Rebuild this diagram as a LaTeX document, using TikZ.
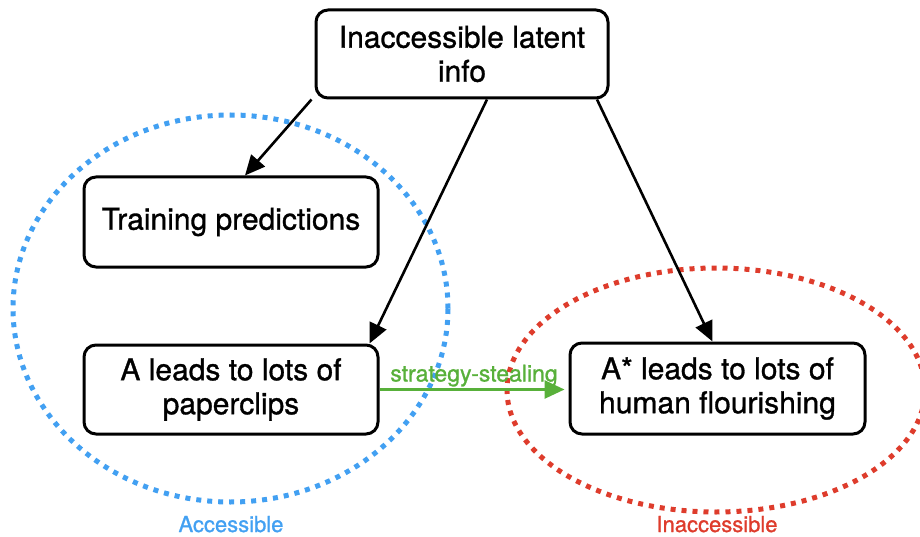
\documentclass[tikz,border=0pt]{standalone}
\usepackage{fontspec}
\setmainfont{TeX Gyre Heros}
\newfontfamily\medfont[FakeBold=1]{TeX Gyre Heros}
\usetikzlibrary{arrows.meta,calc}
\definecolor{accblue}{RGB}{66,160,242}
\definecolor{inred}{RGB}{222,60,44}
\definecolor{stgreen}{RGB}{88,176,58}
\begin{document}
\begin{tikzpicture}[x=1pt,y=-1pt,
  box/.style={draw=black, fill=white, line width=3pt, rounded corners=12pt, align=center,
    font=\medfont\fontsize{30}{34}\selectfont, minimum width=294pt, minimum height=90pt, inner sep=0pt},
  arr/.style={line width=2.6pt, -{Triangle[length=20pt,width=18pt]}},
  region/.style={line width=5pt, dash pattern=on 5pt off 6pt},
  lbl/.style={font=\medfont\fontsize{22}{24}\selectfont, anchor=base}]
\useasboundingbox (0,0) rectangle (920,537);
% regions
\draw[region, accblue] (230.5,308.5) ellipse [x radius=217.5pt, y radius=193.5pt];
\draw[region, inred] (716,390) ellipse [x radius=209pt, y radius=122pt];
% boxes
\node[box, minimum width=292pt, minimum height=88pt] (top) at (462,54) {Inaccessible latent\\info};
\node[box] (train) at (231,222) {Training predictions};
\node[box, minimum height=89pt] (pap) at (231,389.5) {A leads to lots of\\paperclips};
\node[box, minimum width=295pt, minimum height=91pt] (star) at (717.5,388.5) {A* leads to lots of\\human flourishing};
% connectors
\draw[arr] ($(top.south west)+(-3,0)$) -- ($(train.north)+(14,0)$);
\draw[arr] ($(top.south)+(25,0)$) -- ($(pap.north east)+(-10,0)$);
\draw[arr] ($(top.south)+(135,0)$) -- ($(star.north)+(-5,0)$);
\draw[line width=2.8pt, stgreen, -{Triangle[length=20pt,width=18pt]}, shorten >=4pt]
  (pap.east) -- node[lbl, stgreen, yshift=8pt, font=\medfont\fontsize{23}{24}\selectfont] (ss) {strategy-stealing} (pap.east -| star.west);
% labels
\node[lbl, text=accblue] (acc) at (231,532) {Accessible};
\node[lbl, text=inred] (inacc) at (717,532) {Inaccessible};
\end{tikzpicture}
\end{document}
